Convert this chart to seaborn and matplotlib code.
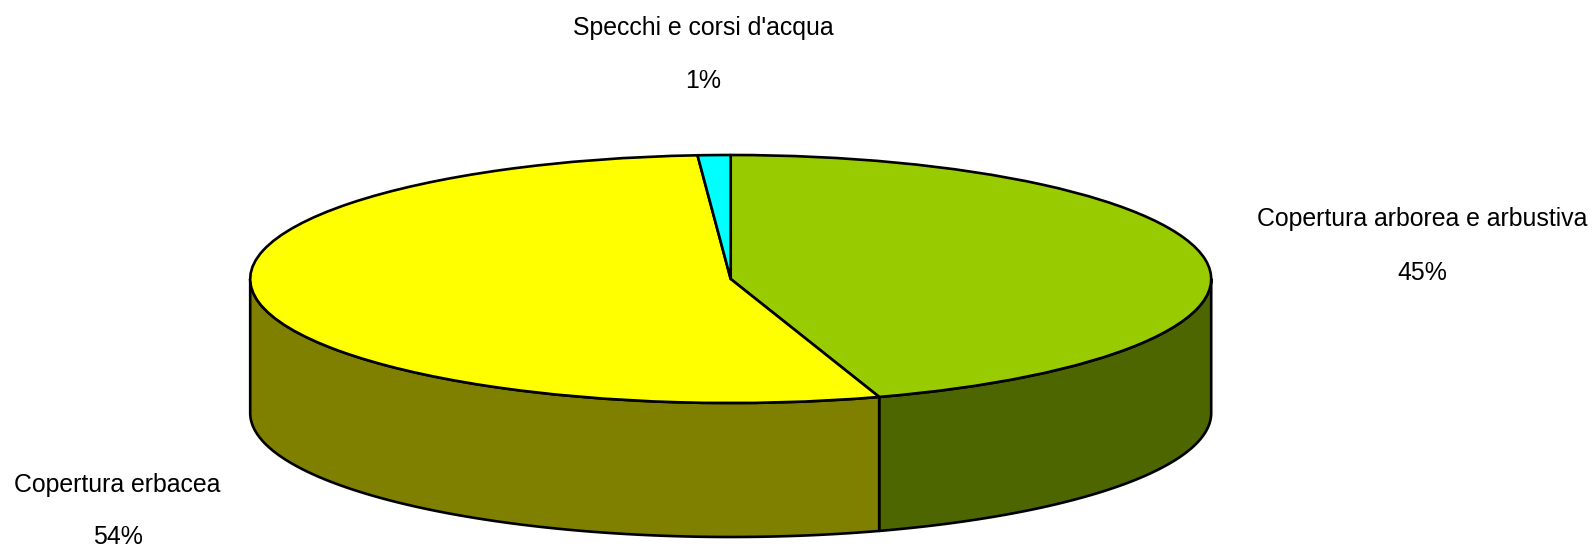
# 3D style pie of land cover shares

import numpy as np
import matplotlib
matplotlib.use("Agg")
import matplotlib.pyplot as plt
import seaborn as sns

# Data
categories = ["Copertura arborea e arbustiva", "Copertura erbacea", "Specchi e corsi d'acqua"]
shares = [45.0, 53.9, 1.1]
colors = ["#99CC00", "#FFFF00", "#00FFFF"]
side_colors = ["#4D6600", "#808000", "#008080"]

W, H = 1595, 547
cx, cy = 730.7, 279
rx, ry = 480.5, 124
depth = 134 / ry

sns.set_theme(style="white")
plt.rcParams['font.family'] = ['Liberation Sans', 'DejaVu Sans']

fig = plt.figure(figsize=(W / 100, H / 100), dpi=100)
ax = fig.add_axes([0, 0, 1, 1])

# side wall, only the front half of the disc shows
edges = np.cumsum([0] + shares) / sum(shares) * 360
for i in range(len(shares)):
    a = max(edges[i], 90)
    b = min(edges[i + 1], 270)
    if a >= b:
        continue
    t = np.radians(np.linspace(a, b, 200))
    x = np.sin(t)
    y = np.cos(t)
    ax.fill(np.r_[x, x[::-1]], np.r_[y, y[::-1] - depth],
            facecolor=side_colors[i], edgecolor="black", linewidth=1.9, joinstyle="round")

# top of the disc
ax.pie(shares, colors=colors, startangle=90, counterclock=False,
       wedgeprops=dict(edgecolor="black", linewidth=1.9, joinstyle="round"))

# squash the circle into an ellipse
ax.set_aspect("auto")
ax.set_xlim(-cx / rx, (W - cx) / rx)
ax.set_ylim(-(H - cy) / ry, cy / ry)

# labels
label_pos = [(1422.5, 219, 272.5), (117.5, 485, 537), (703.5, 28.5, 81.5)]
for name, share, (lx, ly1, ly2) in zip(categories, shares, label_pos):
    fig.text(lx / W, 1 - ly1 / H, name, ha="center", va="center", fontsize=17.9, color="black")
    fig.text(lx / W, 1 - ly2 / H, f"{share:.0f}%", ha="center", va="center", fontsize=17.9, color="black")

fig.savefig("out.png", dpi=100)
